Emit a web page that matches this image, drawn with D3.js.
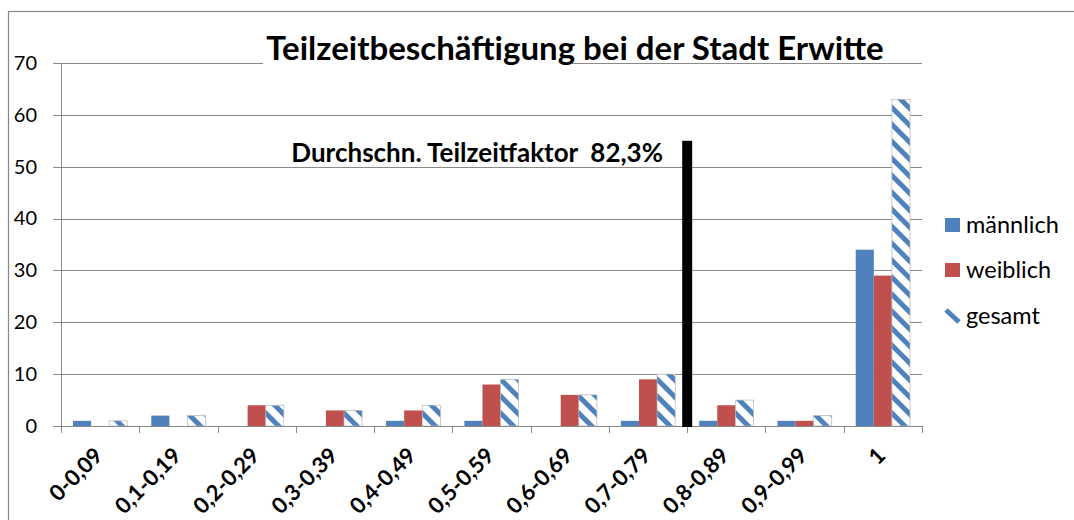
<!DOCTYPE html>
<html><head><meta charset="utf-8">
<script src="https://cdn.jsdelivr.net/npm/d3@7"></script>
<style>body{margin:0;background:#fff;} svg{display:block;font-family:Lato,"Open Sans",sans-serif;}</style>
</head><body>
<svg id="chart" width="1074" height="520"></svg>
<script>
const categories = ["0-0,09","0,1-0,19","0,2-0,29","0,3-0,39","0,4-0,49","0,5-0,59","0,6-0,69","0,7-0,79","0,8-0,89","0,9-0,99","1"];
const seriesNames = ["männlich","weiblich","gesamt"];
const maennlich = [1,2,0,0,1,1,0,1,1,1,34];
const weiblich  = [0,0,4,3,3,8,6,9,4,1,29];
const gesamt    = [1,2,4,3,4,9,6,10,5,2,63];
const yTicks = [0,10,20,30,40,50,60,70];
const averageLine = {boundaryIndex: 8, value: 55, label: "Durchschn. Teilzeitfaktor  82,3%"};
const title = "Teilzeitbeschäftigung bei der Stadt Erwitte";

const svg = d3.select("#chart");
const W = 1074, H = 520;
const m = {left: 61, right: W - 922, top: 63, bottom: H - 426};
const iw = W - m.left - m.right, ih = H - m.top - m.bottom;

const defs = svg.append("defs");
const pat = defs.append("pattern").attr("id","hatch").attr("patternUnits","userSpaceOnUse")
  .attr("width",12).attr("height",12).attr("patternTransform","rotate(-45)");
pat.append("rect").attr("width",12).attr("height",12).attr("fill","#fff");
pat.append("rect").attr("x",0).attr("width",5).attr("height",12).attr("fill","#4F81BD");

// outer border
svg.append("rect").attr("x",8.5).attr("y",11.5).attr("width",1080).attr("height",530)
  .attr("fill","none").attr("stroke","#888").attr("stroke-width",1.2);

const g = svg.append("g").attr("transform",`translate(${m.left},${m.top})`);
const x0 = d3.scaleBand().domain(categories).range([0, iw]).paddingInner(0).paddingOuter(0);
const x1 = d3.scaleBand().domain(seriesNames).range([12, x0.bandwidth()-12]).padding(0);
const y = d3.scaleLinear().domain([0,70]).range([ih,0]);

// gridlines
g.append("g").selectAll("line").data(yTicks).join("line")
  .attr("x1",-8).attr("x2",iw).attr("y1",d=>Math.round(y(d))+0.5).attr("y2",d=>Math.round(y(d))+0.5)
  .attr("stroke","#8a8a8a").attr("stroke-width",1);

// y axis
const yAxis = g.append("g").call(d3.axisLeft(y).tickValues(yTicks).tickSize(0).tickPadding(24));
yAxis.select(".domain").remove();
yAxis.selectAll("text").attr("font-size",20).attr("fill","#000").attr("font-family","Lato");
g.append("line").attr("x1",0.5).attr("x2",0.5).attr("y1",0).attr("y2",ih+7).attr("stroke","#8a8a8a");

// x axis
const xAxisG = g.append("g").attr("transform",`translate(0,${ih})`);
const bounds = d3.range(categories.length+1).map(i => i * x0.bandwidth());
xAxisG.selectAll("line.tk").data(bounds).join("line").attr("class","tk")
  .attr("x1",d=>Math.round(d)+0.5).attr("x2",d=>Math.round(d)+0.5).attr("y1",0).attr("y2",7)
  .attr("stroke","#8a8a8a");
xAxisG.selectAll("text").data(categories).join("text")
  .attr("text-anchor","end").attr("font-size",22).attr("font-weight","bold").attr("font-family","Lato")
  .attr("transform",d=>`translate(${x0(d)+x0.bandwidth()/2+4},${31}) rotate(-45)`)
  .text(d=>d);

// bars
const data = categories.map((c,i)=>({c, vals:[maennlich[i],weiblich[i],gesamt[i]]}));
const fills = ["#4F81BD","#C0504D","url(#hatch)"];
const grp = g.append("g").selectAll("g").data(data).join("g").attr("transform",d=>`translate(${x0(d.c)},0)`);
grp.selectAll("rect").data(d=>d.vals.map((v,k)=>({v,k}))).join("rect")
  .attr("x",d=>x1(seriesNames[d.k])).attr("width",x1.bandwidth())
  .attr("y",d=>y(d.v)).attr("height",d=>ih-y(d.v))
  .attr("fill",d=>fills[d.k])
  .attr("stroke",d=>d.k===2 && d.v>0 ? "#b5b5b5":"none").attr("stroke-width",0.7);

// x axis baseline
g.append("line").attr("x1",0).attr("x2",iw).attr("y1",ih+0.5).attr("y2",ih+0.5).attr("stroke","#8a8a8a");

// average line
const ax = averageLine.boundaryIndex * x0.bandwidth();
g.append("rect").attr("x",ax-5).attr("width",10).attr("y",y(averageLine.value)).attr("height",ih-y(averageLine.value)+1)
  .attr("fill","#000");
g.append("text").attr("x",663-m.left).attr("y",162-m.top).attr("text-anchor","end")
  .style("white-space","pre").attr("xml:space","preserve")
  .attr("font-size",26).attr("font-weight","bold").text(averageLine.label);

// title
svg.append("rect").attr("x",263).attr("y",30).attr("width",303).attr("height",36).attr("fill","#fff");
svg.append("text").attr("x",575).attr("y",60).attr("text-anchor","middle")
  .attr("font-size",33).attr("font-weight","bold").text(title);

// legend
const leg = svg.append("g");
const ly = [225, 270, 316];
seriesNames.forEach((s,i)=>{
  if(i<2){
    leg.append("rect").attr("x",945).attr("y",ly[i]-7).attr("width",15).attr("height",14).attr("fill",fills[i]);
  } else {
    leg.append("line").attr("x1",946).attr("y1",ly[i]-6).attr("x2",959).attr("y2",ly[i]+6)
      .attr("stroke","#4F81BD").attr("stroke-width",5);
  }
  leg.append("text").attr("x",966).attr("y",ly[i]).attr("dy","0.35em").attr("font-size",23.5).text(s);
});
</script>
</body></html>
